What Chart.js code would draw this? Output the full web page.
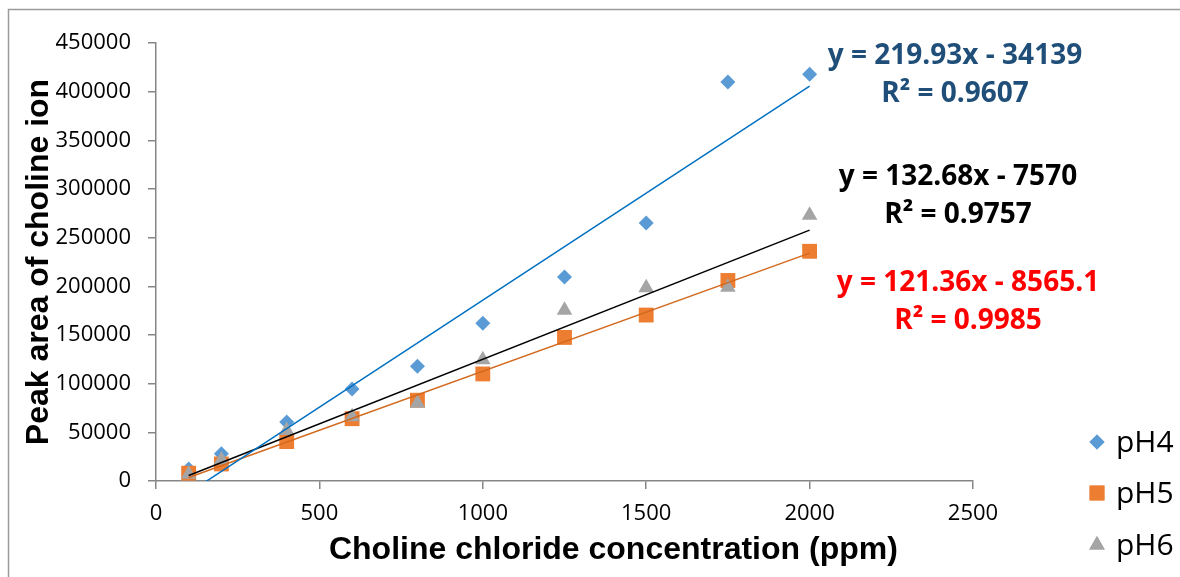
<!DOCTYPE html>
<html>
<head>
<meta charset="utf-8">
<script src="https://cdn.jsdelivr.net/npm/chart.js@4.4.1/dist/chart.umd.min.js"></script>
<style>
  html, body { margin: 0; padding: 0; background: #fff; }
  #wrap { position: relative; width: 1180px; height: 577px; }
</style>
</head>
<body>
<div id="wrap"><canvas id="cholineChart"></canvas></div>
<script>
// Choline chloride concentration (ppm)
const concentrations = [100, 200, 400, 600, 800, 1000, 1250, 1500, 1750, 2000];

// Peak area of choline ion at each pH
const peakPH4 = [12300, 28000, 60600, 94500, 118000, 162000, 209500, 265000, 410000, 418000];
const peakPH5 = [8000, 17500, 40500, 64000, 83000, 110000, 147500, 170500, 206000, 236000];
const peakPH6 = [7000, 21500, 52000, 66000, 80000, 124500, 175500, 198500, 199000, 273000];

const seriesNames = ["pH4", "pH5", "pH6"];

// Linear fits (same order as the series)
const fitSlopes = [219.93, 121.36, 132.68];
const fitIntercepts = [-34139, -8565.1, -7570];
const fitR2 = [0.9607, 0.9985, 0.9757];

const markerColors = ["#5B9BD5", "#ED7D31", "#A5A5A5"];
const markerStyles = ["rectRot", "rect", "triangle"];
const markerRadius = [7.5, 10.5, 9];
const fitColors = ["#0070C0", "#D2691E", "#000000"];
const labelColors = ["#1F4E79", "#FF0000", "#000000"];

const toPoints = (ys) => concentrations.map((x, i) => ({ x: x, y: ys[i] }));
const fitLine = (k) => {
  const x0 = concentrations[0];
  const x1 = concentrations[concentrations.length - 1];
  return [
    { x: x0, y: fitSlopes[k] * x0 + fitIntercepts[k] },
    { x: x1, y: fitSlopes[k] * x1 + fitIntercepts[k] },
  ];
};

const peaks = [peakPH4, peakPH5, peakPH6];

const scatterSets = peaks.map((ys, k) => ({
  type: "scatter",
  label: seriesNames[k],
  data: toPoints(ys),
  pointStyle: markerStyles[k],
  pointRadius: markerRadius[k],
  pointHoverRadius: markerRadius[k],
  backgroundColor: markerColors[k],
  borderColor: markerColors[k],
  borderWidth: 0,
  clip: false,
  order: 3 - k,
}));

const fitSets = peaks.map((ys, k) => ({
  type: "line",
  label: seriesNames[k] + " fit",
  data: fitLine(k),
  borderColor: fitColors[k],
  borderWidth: 1.5,
  pointRadius: 0,
  fill: false,
  order: 0,
}));

// equation text blocks: [centerX, line1Y, line2Y]
const eqPlacement = [
  [955, 56, 94],
  [968, 283, 321],
  [958, 177, 215],
];

const decorations = {
  id: "decorations",
  beforeDraw(chart) {
    const ctx = chart.ctx;
    ctx.save();
    ctx.strokeStyle = "#9A9A9A";
    ctx.lineWidth = 1.5;
    ctx.beginPath();
    ctx.moveTo(8.5, chart.height);
    ctx.lineTo(8.5, 9.5);
    ctx.lineTo(chart.width, 9.5);
    ctx.stroke();
    ctx.restore();
  },
  afterDraw(chart) {
    const ctx = chart.ctx;
    ctx.save();
    // regression equations
    ctx.font = "bold 28px 'Open Sans'";
    ctx.textAlign = "center";
    ctx.textBaseline = "middle";
    eqPlacement.forEach((p, k) => {
      ctx.fillStyle = labelColors[k];
      const b = fitIntercepts[k];
      const sign = b < 0 ? "-" : "+";
      ctx.fillText("y = " + fitSlopes[k] + "x " + sign + " " + Math.abs(b), p[0], p[1]);
      ctx.fillText("R\u00B2 = " + fitR2[k], p[0], p[2]);
    });
    // legend
    ctx.font = "30px 'Open Sans'";
    ctx.textAlign = "left";
    const legendY = [442, 493, 545];
    seriesNames.forEach((name, k) => {
      ctx.fillStyle = markerColors[k];
      ctx.strokeStyle = markerColors[k];
      Chart.helpers.drawPoint(ctx, {
        pointStyle: markerStyles[k],
        radius: markerRadius[k],
        borderWidth: 0,
        rotation: 0,
      }, 1097, legendY[k]);
      ctx.fill();
      ctx.fillStyle = "#000";
      ctx.fillText(name, 1116, legendY[k] + 1);
    });
    ctx.restore();
  },
};

const axisGrey = "#868686";
const plainNumber = (v) => String(v);

new Chart(document.getElementById("cholineChart"), {
  data: { datasets: [...fitSets, ...scatterSets] },
  options: {
    responsive: true,
    maintainAspectRatio: false,
    animation: false,
    layout: { padding: { top: 43, right: 207, left: 0, bottom: 0 } },
    scales: {
      x: {
        type: "linear",
        min: 0,
        max: 2500,
        ticks: {
          stepSize: 500,
          color: "#000",
          padding: 12,
          font: { family: "'Open Sans'", size: 22 },
          callback: plainNumber,
        },
        grid: { drawOnChartArea: false, drawTicks: true, tickLength: 8, color: axisGrey, lineWidth: 1.5 },
        border: { color: axisGrey, width: 1.5 },
        title: {
          display: true,
          text: "           Choline chloride concentration (ppm)",
          color: "#000",
          font: { family: "'Liberation Sans', Arial", size: 32, weight: "bold" },
          padding: { top: 0, bottom: 8 },
        },
        afterFit(scale) { scale.height = 96; },
      },
      y: {
        type: "linear",
        min: 0,
        max: 450000,
        ticks: {
          stepSize: 50000,
          color: "#000",
          padding: 17,
          font: { family: "'Open Sans'", size: 22 },
          callback: plainNumber,
        },
        grid: { drawOnChartArea: false, drawTicks: true, tickLength: 8, color: axisGrey, lineWidth: 1.5 },
        border: { color: axisGrey, width: 1.5 },
        title: {
          display: true,
          text: "Peak area of choline ion",
          color: "#000",
          font: { family: "'Liberation Sans', Arial", size: 32, weight: "bold" },
          padding: { top: 20, bottom: 0 },
        },
        afterFit(scale) { scale.width = 156; },
      },
    },
    plugins: {
      legend: { display: false },
      tooltip: { enabled: false },
    },
  },
  plugins: [decorations],
});
</script>
</body>
</html>
